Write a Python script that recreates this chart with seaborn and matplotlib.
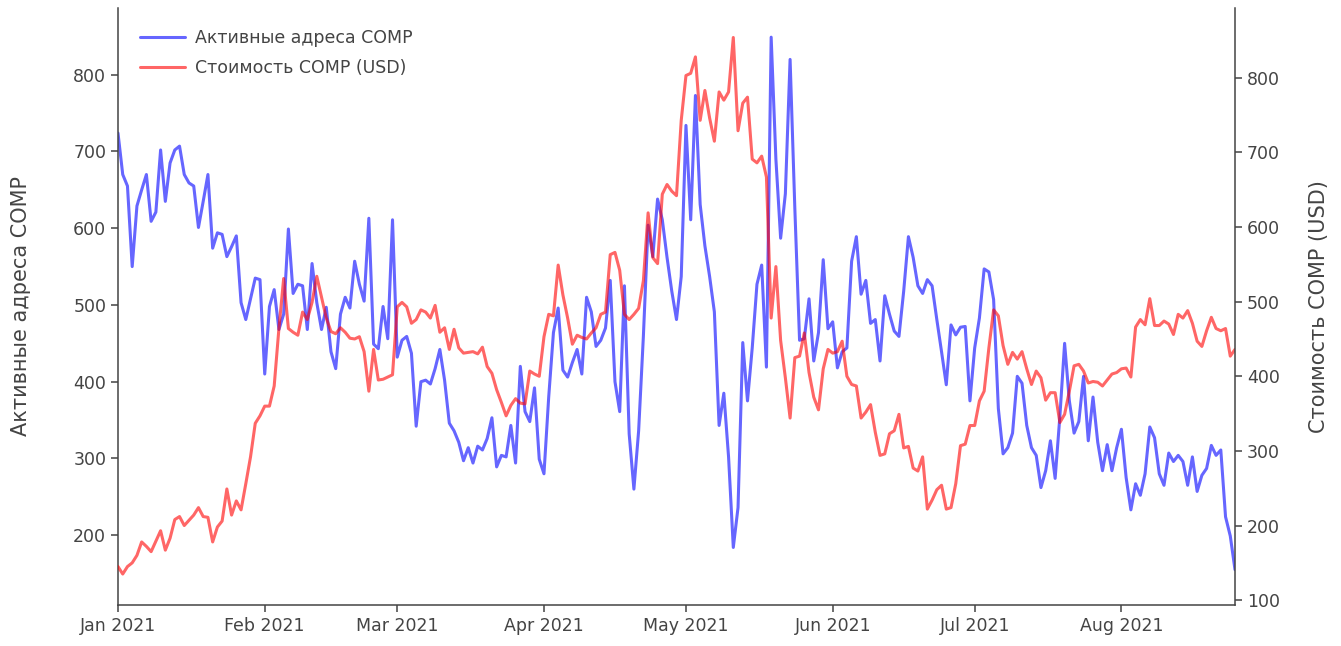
import pandas as pd
import matplotlib.pyplot as plt
import matplotlib.dates as mdates
import seaborn as sns

# ------------------------------
# Données quotidiennes (1 janv. 2021 -> 25 août 2021)
start_date = "2021-01-01"
end_date = "2021-08-25"

active_addresses = [
    724, 670, 655, 550, 629, 650, 670, 609, 621, 702, 635, 685, 702, 707, 670, 659,
    655, 601, 635, 670, 574, 594, 592, 563, 576, 590, 503, 481, 508, 535, 533,
    410, 498, 520, 468, 488, 599, 515, 527, 525, 468, 554, 503, 468, 497, 439, 417,
    488, 510, 496, 557, 527, 505, 613, 449, 443, 498, 456, 611,
    432, 454, 459, 437, 342, 400, 402, 397, 417, 442, 402, 346, 336, 321, 297, 314,
    294, 316, 311, 326, 353, 289, 304, 302, 343, 294, 420, 361, 348, 392, 299,
    280, 380, 464, 496, 415, 406, 425, 442, 410, 510, 491, 446, 454, 470, 532, 400,
    361, 525, 332, 260, 336, 459, 604, 563, 638, 611, 562, 518, 481, 537,
    734, 611, 773, 631, 577, 537, 491, 343, 385, 302, 184, 236, 451, 375, 444, 527,
    552, 419, 849, 690, 587, 645, 820, 626, 454, 456, 508, 427, 464, 559, 469,
    478, 418, 439, 444, 557, 589, 514, 532, 476, 481, 427, 512, 488, 466, 459, 518,
    589, 562, 525, 515, 533, 525, 481, 439, 396, 474, 461, 471, 472, 375,
    444, 483, 547, 543, 507, 365, 306, 314, 333, 407, 398, 343, 314, 304, 262, 284,
    323, 274, 355, 450, 375, 333, 348, 407, 323, 380, 321, 284, 318, 284, 314,
    338, 275, 233, 267, 252, 280, 341, 327, 280, 265, 307, 296, 304, 296, 265, 302,
    257, 278, 287, 317, 304, 311, 224, 199, 155,
]

price_usd = [
    145, 135, 145, 150, 160, 178, 172, 165, 179, 193, 167, 183, 208, 212, 200, 207,
    214, 224, 212, 211, 178, 198, 206, 249, 214, 233, 221, 256, 292, 337, 347,
    360, 360, 387, 464, 531, 464, 459, 455, 486, 476, 499, 534, 506, 478, 460, 457,
    465, 459, 451, 450, 453, 433, 380, 436, 395, 396, 399, 402,
    493, 499, 493, 471, 476, 489, 486, 478, 495, 459, 465, 436, 463, 438, 431, 432,
    433, 430, 439, 413, 404, 382, 365, 347, 361, 370, 364, 363, 407, 403, 400,
    453, 483, 481, 549, 509, 478, 443, 455, 452, 450, 458, 465, 483, 486, 563, 566,
    542, 483, 476, 483, 491, 528, 619, 559, 551, 644, 657, 648, 642, 743,
    803, 806, 828, 743, 783, 746, 715, 781, 770, 781, 854, 729, 766, 774, 691, 686,
    695, 667, 478, 547, 448, 398, 344, 425, 427, 458, 405, 372, 355, 410, 436,
    431, 433, 447, 400, 389, 387, 344, 352, 362, 325, 294, 296, 323, 327, 349, 304,
    306, 277, 273, 292, 222, 234, 248, 254, 222, 224, 256, 307, 309, 334,
    334, 367, 380, 438, 489, 481, 441, 416, 432, 423, 433, 410, 389, 407, 398, 368,
    378, 378, 338, 349, 380, 414, 416, 407, 391, 393, 392, 387, 395, 403, 405,
    410, 411, 399, 466, 476, 469, 504, 468, 468, 474, 470, 456, 483, 478, 488, 471,
    447, 440, 461, 479, 464, 461, 464, 427, 436,
]

label_active = "Активные адреса COMP"
label_price = "Стоимость COMP (USD)"

dates = pd.date_range(start_date, end_date, freq="D")
df = pd.DataFrame({"date": dates, "active": active_addresses, "price": price_usd})

# ------------------------------
sns.set_style("ticks")
plt.rcParams['font.family'] = ['DejaVu Sans']
grey = "#444444"

W, H = 1341, 646
fig = plt.figure(figsize=(W / 100, H / 100), dpi=100)
ax = fig.add_axes([118 / W, 41 / H, (1235 - 118) / W, (605 - 8) / H])

sns.lineplot(data=df, x="date", y="active", ax=ax, color="blue", alpha=0.6,
             linewidth=2.2, label=label_active, legend=False)
ax2 = ax.twinx()
sns.lineplot(data=df, x="date", y="price", ax=ax2, color="red", alpha=0.6,
             linewidth=2.2, label=label_price, legend=False)

ax.set_xlim(dates[0], dates[-1])
ax.set_ylim(109, 887)
ax2.set_ylim(93.5, 893.5)
ax.set_yticks(range(200, 801, 100))
ax2.set_yticks(range(100, 801, 100))

ax.xaxis.set_major_locator(mdates.MonthLocator())
ax.xaxis.set_major_formatter(mdates.DateFormatter("%b %Y"))

for a in (ax, ax2):
    a.spines['top'].set_visible(False)
    for s in a.spines.values():
        s.set_color(grey)
        s.set_linewidth(1.1)
    a.tick_params(axis='both', direction='out', length=5, width=1.1,
                  colors=grey, labelsize=12.5, labelcolor=grey)
ax.spines['right'].set_visible(False)
ax2.spines['left'].set_visible(False)
ax2.spines['bottom'].set_visible(False)

ax.set_xlabel("")
ax.set_ylabel(label_active, fontsize=15, color=grey, labelpad=30)
ax2.set_ylabel(label_price, fontsize=15, color=grey, labelpad=21)

# Légende commune
h1, l1 = ax.get_legend_handles_labels()
h2, l2 = ax2.get_legend_handles_labels()
fig.legend(h1 + h2, l1 + l2, loc="upper left", bbox_to_anchor=(124 / W, 1 - 13 / H),
           frameon=False, fontsize=12.5, handlelength=2.6, handletextpad=0.6,
           labelcolor=grey, labelspacing=0.7)

fig.savefig("out.png", dpi=100)
